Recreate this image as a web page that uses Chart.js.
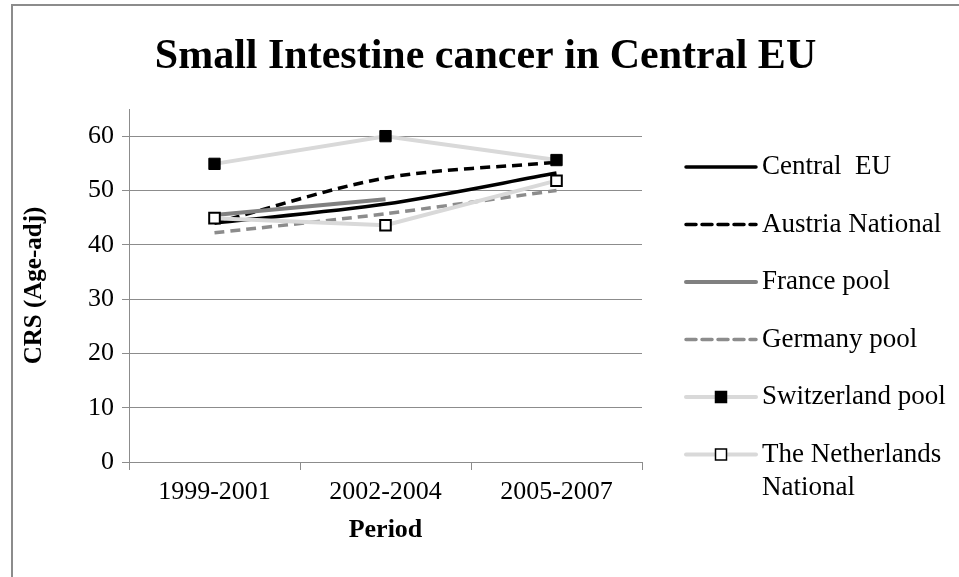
<!DOCTYPE html>
<html>
<head>
<meta charset="utf-8">
<script src="https://cdn.jsdelivr.net/npm/chart.js@4.4.0/dist/chart.umd.min.js"></script>
<style>
  html, body { margin: 0; padding: 0; background: #fff; }
</style>
</head>
<body>
<canvas id="chart" width="959" height="577"></canvas>
<script>
const periods = ['1999-2001', '2002-2004', '2005-2007'];
const centralEU = [44.0, 47.5, 53.2];
const austriaNational = [44.0, 52.3, 55.2];
const francePool = [45.5, 48.4, null];
const germanyPool = [42.2, 45.7, 50.0];
const switzerlandPool = [54.9, 60.0, 55.6];
const netherlandsNational = [44.9, 43.6, 51.8];
const yTicks = [0, 10, 20, 30, 40, 50, 60];

const serif = "'Liberation Serif', 'Times New Roman', serif";
const axisGrey = '#8c8c8c';

// legend drawn on the right like the excel one, line sample + label
const sideLegend = {
    id: 'sideLegend',
    beforeDraw(chart) {
        const ctx = chart.ctx;
        ctx.save();
        ctx.strokeStyle = axisGrey;
        ctx.lineWidth = 2;
        ctx.strokeRect(12, 5, 1000, 700);
        ctx.restore();
    },
    afterDraw(chart) {
        const ctx = chart.ctx;
        const x0 = 686, x1 = 756, textX = 762;
        ctx.save();
        chart.data.datasets.forEach((ds, i) => {
            const y = 167 + i * 57.5;
            ctx.beginPath();
            ctx.setLineDash(ds.borderDash || []);
            ctx.lineWidth = ds.borderWidth;
            ctx.strokeStyle = ds.borderColor;
            ctx.lineCap = 'round';
            ctx.moveTo(x0, y);
            ctx.lineTo(x1, y);
            ctx.stroke();
            ctx.setLineDash([]);
            if (ds.pointRadius > 0) {
                const s = 11;
                ctx.fillStyle = ds.pointBackgroundColor;
                ctx.fillRect((x0 + x1) / 2 - s / 2, y - s / 2, s, s);
                ctx.lineWidth = 1.5;
                ctx.strokeStyle = ds.pointBorderColor;
                ctx.strokeRect((x0 + x1) / 2 - s / 2, y - s / 2, s, s);
            }
            ctx.fillStyle = '#000';
            ctx.font = '27px ' + serif;
            ctx.textBaseline = 'middle';
            ctx.textAlign = 'left';
            const lines = [].concat(ds.legendText || ds.label);
            lines.forEach((t, k) => ctx.fillText(t, textX, y + k * 33));
        });
        ctx.restore();
    }
};

new Chart(document.getElementById('chart'), {
    type: 'line',
    data: {
        labels: periods,
        datasets: [
            {
                label: 'Central  EU',
                data: centralEU,
                borderColor: '#000',
                borderWidth: 3.5,
                tension: 0.3,
                pointRadius: 0,
                order: 6
            },
            {
                label: 'Austria National',
                data: austriaNational,
                borderColor: '#000',
                borderWidth: 3.5,
                borderDash: [10, 6],
                tension: 0.3,
                pointRadius: 0,
                order: 5
            },
            {
                label: 'France pool',
                data: francePool,
                borderColor: '#808080',
                borderWidth: 4,
                pointRadius: 0,
                order: 4
            },
            {
                label: 'Germany pool',
                data: germanyPool,
                borderColor: '#8c8c8c',
                borderWidth: 3.5,
                borderDash: [10, 6],
                tension: 0.2,
                pointRadius: 0,
                order: 3
            },
            {
                label: 'Switzerland pool',
                data: switzerlandPool,
                borderColor: '#d9d9d9',
                borderWidth: 4,
                pointStyle: 'rect',
                pointRadius: 8,
                pointBackgroundColor: '#000',
                pointBorderColor: '#000',
                pointBorderWidth: 1,
                order: 2
            },
            {
                label: 'The Netherlands National',
                legendText: ['The Netherlands', 'National'],
                data: netherlandsNational,
                borderColor: '#d9d9d9',
                borderWidth: 4,
                pointStyle: 'rect',
                pointRadius: 7.5,
                pointBackgroundColor: '#fff',
                pointBorderColor: '#000',
                pointBorderWidth: 2,
                order: 1
            }
        ]
    },
    options: {
        responsive: false,
        animation: false,
        devicePixelRatio: 1,
        layout: { padding: { top: 10, left: 12, right: 0, bottom: 0 } },
        plugins: {
            legend: { display: false },
            tooltip: { enabled: false },
            title: {
                display: true,
                text: 'Small Intestine cancer in Central EU',
                color: '#000',
                font: { family: serif, size: 42, weight: 'bold' },
                padding: { top: 22, bottom: 26.6 }
            }
        },
        scales: {
            x: {
                offset: true,
                grid: { display: true, drawOnChartArea: false, drawTicks: true, tickLength: 8, color: axisGrey, offset: true },
                border: { color: axisGrey, width: 1 },
                ticks: { color: '#000', font: { family: serif, size: 26 }, padding: 7 },
                title: {
                    display: true,
                    text: 'Period',
                    color: '#000',
                    font: { family: serif, size: 26, weight: 'bold' },
                    padding: { top: 0, bottom: 31 }
                },
                afterFit: s => { s.height = 115; }
            },
            y: {
                min: 0,
                max: 65,
                ticks: {
                    stepSize: 10,
                    color: '#000',
                    font: { family: serif, size: 26 },
                    padding: 8
                },
                afterBuildTicks: s => { s.ticks = yTicks.map(v => ({ value: v })); },
                grid: { color: axisGrey, tickLength: 7, lineWidth: 1 },
                border: { color: axisGrey, width: 1 },
                title: {
                    display: true,
                    text: 'CRS (Age-adj)',
                    color: '#000',
                    font: { family: serif, size: 25, weight: 'bold' },
                    padding: { top: 8, bottom: 0 }
                },
                afterFit: s => { s.width = 117; }
            },
            side: {
                position: 'right',
                display: true,
                grid: { display: false },
                border: { display: false },
                ticks: { display: false },
                afterFit: s => { s.width = 317; }
            }
        }
    },
    plugins: [sideLegend]
});
</script>
</body>
</html>
